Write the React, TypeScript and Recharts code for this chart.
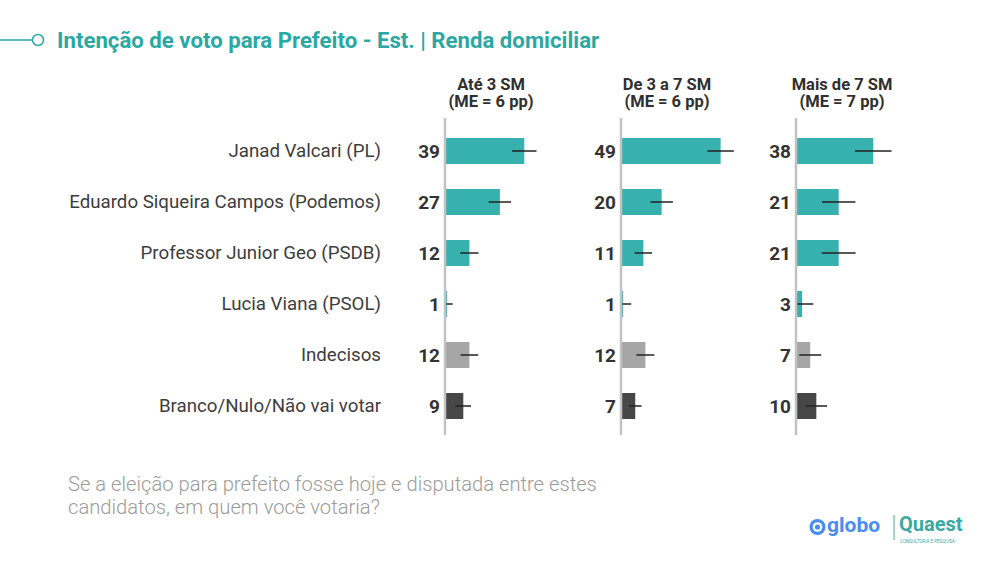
import React from 'react';
import { BarChart, Bar, XAxis, YAxis, Cell, LabelList, ErrorBar } from 'recharts';

// candidates, top to bottom
const candidates = [
  'Janad Valcari (PL)',
  'Eduardo Siqueira Campos (Podemos)',
  'Professor Junior Geo (PSDB)',
  'Lucia Viana (PSOL)',
  'Indecisos',
  'Branco/Nulo/Não vai votar',
];

// vote share (%) by household income
const ate3 = [39, 27, 12, 1, 12, 9];
const de3a7 = [49, 20, 11, 1, 12, 7];
const mais7 = [38, 21, 21, 3, 7, 10];

// margin of error: [below, above]
const ate3Err = [[6, 6], [5.5, 5.5], [4.5, 4.5], [1, 2.8], [4.3, 4.3], [3.8, 3.8]];
const de3a7Err = [[6.5, 6.5], [5.5, 5.5], [4.3, 4.3], [1, 4], [4.4, 4.4], [3.1, 3.1]];
const mais7Err = [[9, 9], [8.2, 8.2], [8.3, 8.3], [2.7, 5.5], [5.4, 5.4], [5.3, 5.3]];

const panelTitles = ['Até 3 SM', 'De 3 a 7 SM', 'Mais de 7 SM'];
const panelMargins = ['(ME = 6 pp)', '(ME = 6 pp)', '(ME = 7 pp)'];

const rowColors = ['#37b1ad', '#37b1ad', '#37b1ad', '#37b1ad', '#a6a6a6', '#474747'];

const TEAL = '#2aa8a3';
const FONT = 'Roboto, "Noto Sans", sans-serif';

const buildRows = (values: number[], errs: number[][]) =>
  candidates.map((name, i) => ({ name, value: values[i], err: errs[i] }));

interface PanelProps {
  values: number[];
  errs: number[][];
  left: number;
  axisWidth: number;
  showNames: boolean;
}

const Panel: React.FC<PanelProps> = ({ values, errs, left, axisWidth, showNames }) => {
  const rows = buildRows(values, errs);
  const plotWidth = 122;
  return (
    <div style={{ position: 'absolute', left, top: 118 }}>
      <BarChart
        width={axisWidth + plotWidth}
        height={317}
        data={rows}
        layout="vertical"
        margin={{ top: 0, right: 0, bottom: 0, left: 0 }}
      >
        <XAxis type="number" domain={[0, 60]} allowDataOverflow hide />
        <YAxis
          type="category"
          dataKey="name"
          width={axisWidth}
          padding={{ top: 7, bottom: 4 }}
          axisLine={{ stroke: '#c2c2c2', strokeWidth: 2.5 }}
          tickLine={false}
          tickSize={0}
          tickMargin={64}
          tick={showNames ? { fill: '#3d3d3d', fontSize: 18.7, fontFamily: FONT } : false}
          interval={0}
        />
        <Bar dataKey="value" barSize={26} isAnimationActive={false}>
          {rows.map((r, i) => (
            <Cell key={r.name} fill={rowColors[i]} />
          ))}
          <LabelList
            dataKey="value"
            position="left"
            offset={5}
            style={{ fill: '#333', fontSize: 19, fontWeight: 700, fontFamily: FONT }}
          />
          <ErrorBar dataKey="err" direction="x" width={0} stroke="#222" strokeWidth={1.5} />
        </Bar>
      </BarChart>
    </div>
  );
};

const axisX = [445, 621, 796];

export default function App() {
  return (
    <div
      style={{
        position: 'absolute',
        left: 0,
        top: 0,
        width: 984,
        height: 564,
        background: '#fff',
        fontFamily: FONT,
        overflow: 'hidden',
      }}
    >
      <svg width={984} height={564} style={{ position: 'absolute', left: 0, top: 0 }}>
        <line x1={0} y1={40} x2={32} y2={40} stroke={TEAL} strokeWidth={1.5} />
        <circle cx={38} cy={40} r={5.5} fill="#fff" stroke={TEAL} strokeWidth={1.5} />
        <text x={57} y={48} fill={TEAL} fontSize={22.2} fontWeight={700} fontFamily={FONT}>
          Intenção de voto para Prefeito - Est. | Renda domiciliar
        </text>

        {panelTitles.map((t, i) => (
          <g key={t}>
            <text x={axisX[i] + 46} y={89.5} textAnchor="middle" fill="#2f2f2f" fontSize={16.5} fontWeight={700} fontFamily={FONT}>
              {t}
            </text>
            <text x={axisX[i] + 46} y={107} textAnchor="middle" fill="#2f2f2f" fontSize={16.5} fontWeight={700} fontFamily={FONT}>
              {panelMargins[i]}
            </text>
          </g>
        ))}

        <text x={68} y={491} fill="#9b9b9b" fontSize={20.2} fontWeight={300} fontFamily={FONT}>
          Se a eleição para prefeito fosse hoje e disputada entre estes
        </text>
        <text x={68} y={514} fill="#9b9b9b" fontSize={20.2} fontWeight={300} fontFamily={FONT}>
          candidatos, em quem você votaria?
        </text>

        {/* logos */}
        <circle cx={817.5} cy={527} r={8} fill="#4a8df0" />
        <circle cx={817.5} cy={527} r={4.8} fill="#fff" />
        <circle cx={817.5} cy={527} r={2.6} fill="#4a8df0" />
        <text x={827} y={532} fill="#4a8df0" fontSize={21} fontWeight={700} fontFamily={FONT}>
          globo
        </text>
        <line x1={894} y1={515} x2={894} y2={540} stroke="#3aa9a4" strokeWidth={1} />
        <text x={899} y={531} fill="#3aa9a4" fontSize={20} fontWeight={700} fontFamily={FONT}>
          Quaest
        </text>
        <text x={900} y={542.5} fill="#3aa9a4" fontSize={4.5} fontFamily={FONT}>
          CONSULTORIA E PESQUISA
        </text>
      </svg>

      <Panel values={ate3} errs={ate3Err} left={0} axisWidth={445} showNames />
      <Panel values={de3a7} errs={de3a7Err} left={561} axisWidth={60} showNames={false} />
      <Panel values={mais7} errs={mais7Err} left={736} axisWidth={60} showNames={false} />
    </div>
  );
}
